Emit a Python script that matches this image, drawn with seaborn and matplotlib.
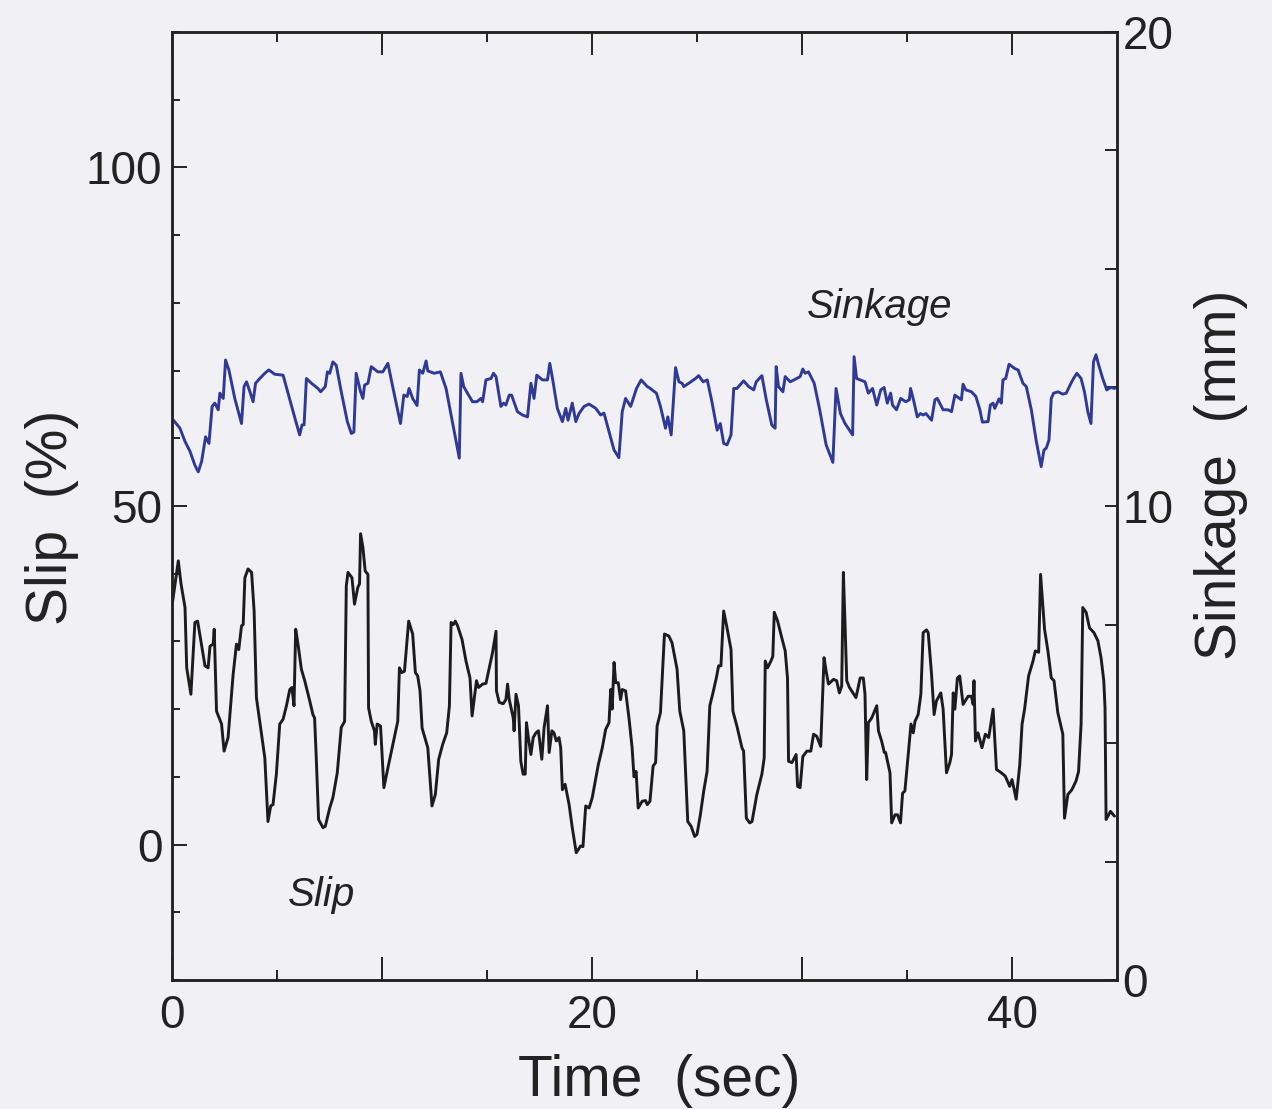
import numpy as np
import pandas as pd
import matplotlib
matplotlib.use("Agg")
import matplotlib.pyplot as plt
import seaborn as sns

# ---------------- data ----------------
slip_time = [
    0.02, 0.22, 0.30, 0.43, 0.62, 0.70, 0.90, 1.09, 1.22, 1.57,
    1.72, 1.81, 1.96, 2.01, 2.12, 2.36, 2.48, 2.67, 2.91, 3.07,
    3.18, 3.31, 3.39, 3.47, 3.62, 3.79, 3.91, 4.02, 4.26, 4.42,
    4.57, 4.70, 4.81, 4.97, 5.13, 5.29, 5.45, 5.61, 5.71, 5.81,
    5.89, 6.00, 6.16, 6.32, 6.56, 6.71, 6.79, 6.87, 6.98, 7.19,
    7.30, 7.51, 7.66, 7.87, 8.06, 8.22, 8.30, 8.38, 8.57, 8.69,
    8.85, 8.93, 8.98, 9.09, 9.20, 9.33, 9.36, 9.49, 9.64, 9.68,
    9.77, 9.93, 10.09, 10.28, 10.59, 10.75, 10.83, 10.94, 11.07, 11.27,
    11.46, 11.59, 11.70, 11.81, 11.91, 12.18, 12.38, 12.54, 12.70, 12.89,
    13.08, 13.21, 13.29, 13.40, 13.49, 13.60, 13.81, 14.00, 14.19, 14.29,
    14.50, 14.60, 14.79, 14.95, 15.11, 15.26, 15.43, 15.45, 15.58, 15.77,
    15.90, 15.98, 16.06, 16.25, 16.29, 16.38, 16.50, 16.61, 16.72, 16.82,
    16.88, 16.97, 17.09, 17.20, 17.33, 17.45, 17.61, 17.72, 17.88, 17.96,
    18.09, 18.19, 18.30, 18.43, 18.51, 18.59, 18.72, 18.91, 19.06, 19.25,
    19.46, 19.57, 19.70, 19.86, 20.01, 20.14, 20.30, 20.49, 20.65, 20.81,
    20.89, 20.96, 21.05, 21.13, 21.25, 21.36, 21.44, 21.60, 21.76, 21.91,
    22.00, 22.10, 22.20, 22.39, 22.55, 22.63, 22.76, 22.91, 23.03, 23.10,
    23.26, 23.45, 23.66, 23.81, 24.05, 24.18, 24.37, 24.56, 24.72, 24.89,
    25.00, 25.16, 25.32, 25.48, 25.61, 25.76, 25.92, 26.03, 26.14, 26.27,
    26.43, 26.62, 26.71, 26.90, 27.14, 27.22, 27.35, 27.51, 27.62, 27.85,
    28.09, 28.20, 28.25, 28.36, 28.52, 28.61, 28.68, 28.84, 29.04, 29.20,
    29.31, 29.36, 29.52, 29.72, 29.79, 29.91, 30.04, 30.23, 30.42, 30.55,
    30.70, 30.89, 31.05, 31.15, 31.26, 31.50, 31.65, 31.78, 31.89, 31.97,
    32.05, 32.13, 32.26, 32.57, 32.77, 32.92, 33.00, 33.08, 33.16, 33.32,
    33.56, 33.64, 33.79, 33.92, 33.98, 34.19, 34.27, 34.43, 34.55, 34.69,
    34.79, 34.90, 35.06, 35.19, 35.30, 35.38, 35.53, 35.66, 35.77, 35.93,
    36.01, 36.17, 36.29, 36.40, 36.61, 36.72, 36.88, 37.04, 37.12, 37.20,
    37.28, 37.40, 37.51, 37.67, 37.91, 38.07, 38.15, 38.19, 38.26, 38.38,
    38.57, 38.73, 38.89, 39.10, 39.26, 39.49, 39.68, 39.89, 40.00, 40.20,
    40.37, 40.48, 40.60, 40.79, 41.00, 41.11, 41.27, 41.36, 41.55, 41.71,
    41.87, 42.00, 42.18, 42.42, 42.50, 42.66, 42.85, 43.05, 43.17, 43.29,
    43.37, 43.53, 43.69, 43.90, 44.09, 44.24, 44.37, 44.43, 44.48, 44.69,
    44.88,
]
slip_pct = [
    35.7, 40.2, 41.9, 38.5, 35.0, 26.1, 22.2, 32.8, 33.0, 26.4,
    26.1, 29.3, 29.6, 31.8, 19.7, 17.8, 13.8, 15.8, 25.1, 29.6,
    28.8, 32.3, 32.5, 39.4, 40.7, 40.2, 34.5, 21.7, 16.3, 12.8,
    3.4, 5.7, 5.9, 10.4, 17.8, 18.5, 20.5, 22.9, 23.2, 20.5,
    31.8, 29.6, 25.9, 24.2, 21.2, 19.2, 18.7, 12.8, 3.7, 2.5,
    2.7, 5.4, 6.9, 10.6, 17.3, 18.2, 38.2, 40.2, 39.4, 35.5,
    38.0, 38.5, 45.9, 43.9, 40.4, 39.9, 20.2, 18.2, 16.8, 14.8,
    17.8, 17.5, 8.4, 11.3, 15.8, 18.2, 26.1, 25.4, 25.6, 33.0,
    31.1, 25.4, 24.9, 22.7, 17.2, 14.3, 5.7, 7.4, 12.6, 14.8,
    16.5, 20.5, 32.8, 32.5, 33.0, 32.3, 30.3, 27.1, 24.6, 19.0,
    24.2, 23.2, 23.7, 23.8, 26.1, 28.3, 31.5, 22.7, 21.0, 20.8,
    21.4, 23.7, 21.4, 18.7, 16.8, 22.2, 20.5, 12.3, 10.4, 10.4,
    18.0, 15.8, 13.3, 15.8, 16.5, 16.8, 12.6, 17.3, 20.5, 13.6,
    16.8, 16.5, 15.3, 15.8, 14.3, 8.1, 8.9, 5.9, 2.5, -1.2,
    -0.2, -0.3, 5.7, 5.4, 6.9, 9.1, 11.8, 14.3, 17.0, 18.0,
    22.9, 20.0, 26.9, 23.9, 23.9, 21.4, 22.9, 22.7, 18.7, 14.3,
    10.0, 10.8, 5.4, 6.4, 6.5, 5.9, 6.4, 11.6, 12.1, 17.5,
    19.5, 31.1, 30.8, 29.8, 25.9, 19.7, 16.8, 3.4, 2.7, 1.2,
    1.5, 4.4, 7.9, 10.8, 20.5, 22.4, 24.6, 26.4, 26.4, 34.5,
    32.0, 28.8, 19.7, 17.5, 14.3, 13.8, 3.9, 3.2, 3.4, 7.4,
    10.4, 12.8, 27.1, 26.1, 27.1, 27.8, 34.3, 33.0, 30.5, 28.6,
    24.6, 12.3, 12.1, 13.3, 8.6, 8.4, 13.0, 13.8, 13.8, 16.3,
    16.0, 14.5, 27.6, 25.6, 23.7, 24.4, 24.2, 22.4, 23.4, 40.2,
    32.5, 24.2, 23.2, 21.7, 24.6, 24.6, 22.2, 9.6, 18.0, 18.7,
    20.5, 16.8, 15.3, 13.6, 13.6, 10.6, 3.2, 4.4, 4.4, 3.2,
    7.6, 7.9, 13.3, 17.8, 16.5, 18.2, 19.2, 22.2, 31.3, 31.7,
    31.3, 25.1, 19.2, 21.2, 22.4, 20.0, 10.6, 12.1, 13.3, 22.4,
    20.0, 24.6, 24.9, 20.7, 21.9, 21.9, 20.7, 24.2, 15.3, 16.5,
    14.3, 16.3, 15.8, 20.0, 11.1, 10.6, 10.1, 8.6, 9.6, 6.7,
    11.8, 17.8, 20.0, 24.9, 27.1, 28.6, 28.4, 39.9, 31.8, 28.6,
    24.6, 24.2, 19.5, 16.3, 3.9, 7.4, 8.1, 9.4, 10.8, 17.8,
    35.0, 34.3, 32.0, 31.3, 30.1, 27.6, 24.2, 20.2, 3.7, 4.9,
    4.2,
]

sink_time = [
    0.05, 0.38, 0.62, 0.86, 1.09, 1.25, 1.41, 1.60, 1.76, 1.91,
    2.04, 2.20, 2.28, 2.44, 2.55, 2.71, 2.99, 3.31, 3.43, 3.55,
    3.71, 3.86, 3.98, 4.18, 4.42, 4.61, 4.89, 5.29, 5.61, 5.88,
    6.08, 6.19, 6.29, 6.40, 6.64, 6.95, 7.08, 7.30, 7.40, 7.51,
    7.66, 7.82, 8.06, 8.35, 8.54, 8.66, 8.77, 8.98, 9.09, 9.17,
    9.33, 9.49, 9.80, 10.04, 10.28, 10.56, 10.88, 11.04, 11.20, 11.29,
    11.46, 11.67, 11.78, 11.94, 12.10, 12.18, 12.49, 12.78, 13.05, 13.29,
    13.52, 13.68, 13.76, 13.89, 14.07, 14.31, 14.52, 14.71, 14.79, 14.95,
    15.19, 15.31, 15.43, 15.66, 15.79, 15.90, 16.06, 16.17, 16.45, 16.69,
    16.93, 17.09, 17.24, 17.37, 17.64, 17.88, 17.99, 18.12, 18.35, 18.59,
    18.75, 18.86, 19.06, 19.23, 19.38, 19.62, 19.86, 20.18, 20.41, 20.57,
    20.81, 21.05, 21.28, 21.44, 21.60, 21.84, 22.12, 22.34, 22.63, 22.71,
    23.07, 23.26, 23.50, 23.61, 23.77, 23.98, 24.14, 24.29, 24.37, 24.61,
    24.93, 25.08, 25.29, 25.49, 25.71, 25.96, 26.11, 26.27, 26.43, 26.62,
    26.75, 26.90, 27.22, 27.46, 27.70, 27.82, 28.09, 28.30, 28.56, 28.72,
    28.77, 28.88, 29.09, 29.20, 29.44, 29.75, 29.91, 30.04, 30.15, 30.31,
    30.58, 30.83, 31.15, 31.47, 31.62, 31.83, 32.05, 32.37, 32.41, 32.48,
    32.60, 33.00, 33.16, 33.36, 33.56, 33.75, 33.91, 34.06, 34.22, 34.31,
    34.50, 34.70, 34.94, 35.11, 35.17, 35.33, 35.49, 35.64, 35.77, 35.90,
    36.17, 36.33, 36.44, 36.72, 36.96, 37.12, 37.28, 37.59, 37.67, 37.80,
    38.07, 38.28, 38.47, 38.59, 38.86, 38.97, 39.10, 39.18, 39.38, 39.49,
    39.57, 39.70, 39.86, 40.13, 40.29, 40.52, 40.68, 40.92, 41.16, 41.39,
    41.52, 41.63, 41.76, 41.87, 41.98, 42.19, 42.42, 42.58, 42.81, 42.93,
    43.09, 43.29, 43.45, 43.61, 43.76, 43.88, 44.00, 44.13, 44.32, 44.51,
    44.70, 44.89,
]
sink_mm = [
    11.82, 11.64, 11.36, 11.15, 10.86, 10.72, 10.94, 11.46, 11.32, 12.10,
    12.17, 12.03, 12.38, 12.27, 13.08, 12.87, 12.27, 11.74, 12.52, 12.62,
    12.41, 12.20, 12.59, 12.69, 12.80, 12.87, 12.78, 12.76, 12.24, 11.81,
    11.50, 11.71, 11.71, 12.69, 12.59, 12.48, 12.41, 12.52, 12.83, 12.80,
    13.04, 12.97, 12.41, 11.78, 11.53, 11.56, 12.80, 12.41, 12.27, 12.55,
    12.59, 12.94, 12.83, 12.83, 13.01, 12.41, 11.74, 12.34, 12.31, 12.48,
    12.27, 12.12, 12.87, 12.80, 13.06, 12.85, 12.80, 12.83, 12.48, 11.92,
    11.39, 11.01, 12.80, 12.52, 12.38, 12.20, 12.20, 12.27, 12.20, 12.66,
    12.69, 12.80, 12.73, 12.10, 12.17, 12.13, 12.34, 12.34, 11.99, 11.92,
    11.88, 12.59, 12.27, 12.76, 12.66, 12.66, 13.01, 12.69, 12.06, 11.78,
    12.06, 11.81, 12.17, 11.78, 11.95, 12.10, 12.15, 12.06, 11.92, 11.96,
    11.57, 11.18, 11.02, 11.99, 12.27, 12.10, 12.48, 12.66, 12.52, 12.50,
    12.38, 12.10, 11.64, 11.88, 11.50, 12.92, 12.62, 12.59, 12.52, 12.59,
    12.69, 12.75, 12.62, 12.66, 12.20, 11.60, 11.74, 11.32, 11.29, 11.50,
    12.48, 12.48, 12.64, 12.52, 12.45, 12.62, 12.75, 12.24, 11.71, 11.64,
    12.94, 12.52, 12.41, 12.73, 12.62, 12.69, 12.73, 12.89, 12.80, 12.83,
    12.59, 12.06, 11.29, 10.92, 12.48, 11.95, 11.74, 11.53, 11.50, 13.15,
    12.69, 12.62, 12.38, 12.48, 12.13, 12.45, 12.50, 12.17, 12.38, 12.13,
    12.03, 12.27, 12.20, 12.24, 12.48, 12.20, 11.88, 11.95, 11.92, 11.95,
    11.81, 12.24, 12.27, 12.03, 12.03, 11.99, 12.34, 12.24, 12.57, 12.45,
    12.41, 12.31, 12.03, 11.77, 11.78, 12.13, 12.17, 12.06, 12.26, 12.17,
    12.66, 12.69, 12.99, 12.90, 12.87, 12.59, 12.52, 12.03, 11.36, 10.83,
    11.18, 11.22, 11.39, 12.27, 12.38, 12.41, 12.36, 12.38, 12.59, 12.69,
    12.80, 12.69, 12.41, 11.99, 11.74, 13.04, 13.19, 12.97, 12.69, 12.45,
    12.50, 12.48,
]

x_tick_values = [0, 10, 20, 30, 40]
x_tick_labels = ["0", "", "20", "", "40"]
slip_tick_values = [0, 50, 100]
sink_tick_values = [0, 2.5, 5, 7.5, 10, 12.5, 15, 17.5, 20]
sink_tick_labels = ["0", "", "", "", "10", "", "", "", "20"]

assert len(slip_time) == len(slip_pct)
assert len(sink_time) == len(sink_mm)

slip_df = pd.DataFrame({"time": slip_time, "slip": slip_pct})
sink_df = pd.DataFrame({"time": sink_time, "sinkage": sink_mm})

# ---------------- style ----------------
sns.set_theme(style="ticks")
plt.rcParams["font.family"] = ["Liberation Sans", "DejaVu Sans"]
BG = "#F1F0F5"
INK = "#222222"

W, H = 1272, 1109
fig = plt.figure(figsize=(W / 100, H / 100), dpi=100, facecolor=BG)
ax = fig.add_axes([172 / W, 1 - 980 / H, 945 / W, 948 / H])
ax.set_facecolor(BG)
ax2 = ax.twinx()

sns.lineplot(data=slip_df, x="time", y="slip", ax=ax, color="#1c1c1c",
             linewidth=2.1, estimator=None, sort=False)
sns.lineplot(data=sink_df, x="time", y="sinkage", ax=ax2, color="#2E3A96",
             linewidth=2.1, estimator=None, sort=False)

ax.set_xlim(0, 45)
ax.set_ylim(-20, 120)
ax2.set_ylim(0, 20)

ax.set_xticks(x_tick_values)
ax.set_xticklabels(x_tick_labels)
ax.set_xticks([5, 15, 25, 35], minor=True)
ax.set_yticks(slip_tick_values)
ax.set_yticklabels([str(v) for v in slip_tick_values])
ax.set_yticks([v for v in range(-20, 121, 10) if v not in slip_tick_values], minor=True)
ax2.set_yticks(sink_tick_values)
ax2.set_yticklabels(sink_tick_labels)

for a in (ax, ax2):
    for s in a.spines.values():
        s.set_linewidth(1.8)
        s.set_color(INK)
        s.set_visible(True)

ax.tick_params(axis="x", which="both", direction="in", top=True, bottom=True,
               width=1.4, color=INK, labelsize=33, pad=10, labelcolor=INK)
ax.tick_params(axis="x", which="major", length=16.5)
ax.tick_params(axis="x", which="minor", length=7)
ax.tick_params(axis="y", which="both", direction="in", left=True, right=False,
               width=1.4, color=INK, labelsize=33, pad=7, labelcolor=INK)
ax.tick_params(axis="y", which="major", length=11)
ax.tick_params(axis="y", which="minor", length=6)
ax2.tick_params(axis="y", which="both", direction="in", right=True, left=False,
                width=1.4, length=9, color=INK, labelsize=33, pad=4, labelcolor=INK)

ax.set_xlabel("Time  (sec)", fontsize=41, color=INK)
ax.xaxis.set_label_coords(0.516, -0.078)
ax.set_ylabel("Slip  (%)", fontsize=41, color=INK)
ax.yaxis.set_label_coords(-0.0985, 0.488)
ax2.set_ylabel("Sinkage  (mm)", fontsize=41, color=INK)
ax2.yaxis.set_label_coords(1.0815, 0.533)
ax2.set_xlabel("")

ax.text(33.7, 79.4, "Sinkage", style="italic", fontsize=29, color=INK,
        ha="center", va="center")
ax.text(7.13, -7.4, "Slip", style="italic", fontsize=29, color=INK,
        ha="center", va="center")

fig.savefig("out.png", dpi=100, facecolor=BG)
